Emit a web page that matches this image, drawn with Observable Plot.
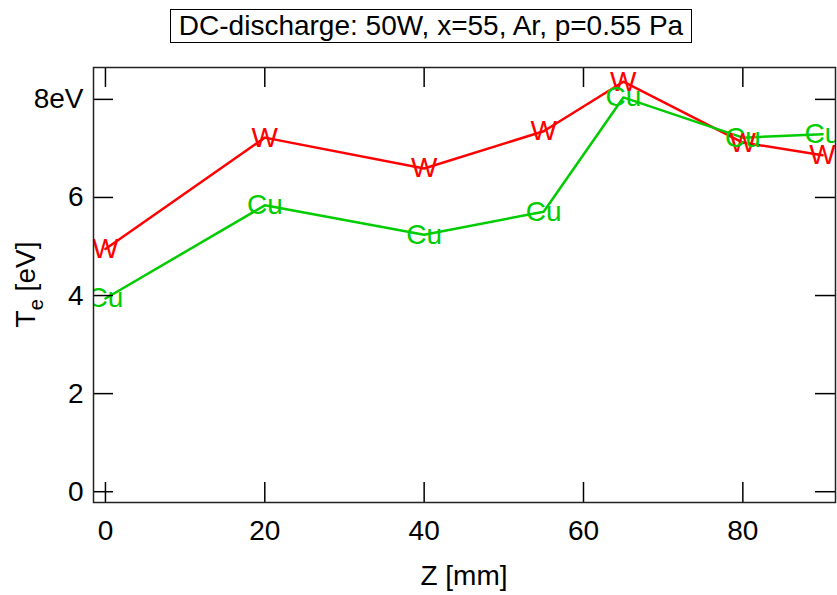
<!DOCTYPE html>
<html>
<head>
<meta charset="utf-8">
<script src="https://cdn.jsdelivr.net/npm/d3@7"></script>
<script src="https://cdn.jsdelivr.net/npm/@observablehq/plot@0.6"></script>
<style>
  html, body { margin: 0; padding: 0; background: white; }
  #wrap { width: 837px; height: 595px; position: relative; font-family: "Liberation Sans", Arial, sans-serif; }
  #title { position: absolute; left: 170px; top: 9px; width: 520px; height: 32px; border: 1px solid black;
           font-size: 28px; line-height: 32px; text-align: center; white-space: nowrap; color: black; }
  #chart { position: absolute; left: 0; top: 50px; }
</style>
</head>
<body>
<div id="wrap">
  <div id="title">DC-discharge: 50W, x=55, Ar, p=0.55 Pa</div>
  <div id="chart"></div>
</div>
<script>
const zPositions = [0, 20, 40, 55, 65, 80, 90];
const teW  = [4.95, 7.22, 6.59, 7.35, 8.36, 7.12, 6.86];
const teCu = [3.94, 5.84, 5.24, 5.71, 8.04, 7.22, 7.29];
const xTicks = [0, 20, 40, 60, 80];
const yTicks = [0, 2, 4, 6, 8];
const yTickLabels = ["0", "2", "4", "6", "8eV"];
const seriesNames = ["W", "Cu"];
const seriesColors = ["#ff0000", "#00cc00"];

const table = [];
zPositions.forEach((z, i) => {
  table.push({series: "W", z, te: teW[i]});
  table.push({series: "Cu", z, te: teCu[i]});
});

const W = 837, H = 545, mT = 17, mB = 93, mL = 93, mR = 2;
const frameW = W - mL - mR, frameH = H - mT - mB;
const tickLen = 20;
const font = "'Liberation Sans', Arial, sans-serif";
const tickStyle = {stroke: "black", strokeWidth: 1.5};

const marks = [];
seriesNames.forEach((s, k) => {
  const d = table.filter(r => r.series === s);
  marks.push(Plot.line(d, {x: "z", y: "te", stroke: seriesColors[k], strokeWidth: 2.5, clip: true}));
});
seriesNames.forEach((s, k) => {
  const d = table.filter(r => r.series === s);
  marks.push(Plot.text(d, {x: "z", y: "te", text: "series", fill: seriesColors[k], fontSize: 28,
    fontFamily: font, textAnchor: "middle", lineAnchor: "middle", clip: true}));
});
marks.push(
  Plot.axisX(xTicks, {anchor: "bottom", tickSize: 0, tickPadding: 18, fontSize: 28, label: null, fill: "black"}),
  Plot.axisY(yTicks, {anchor: "left", tickSize: 0, tickPadding: 10, fontSize: 28, label: null, fill: "black",
    tickFormat: d => yTickLabels[yTicks.indexOf(d)]}),
  Plot.ruleX(xTicks, {x: d => d, insetTop: frameH - tickLen, ...tickStyle}),
  Plot.ruleX(xTicks, {x: d => d, insetBottom: frameH - tickLen, ...tickStyle}),
  Plot.ruleY(yTicks, {y: d => d, insetRight: frameW - tickLen, ...tickStyle}),
  Plot.ruleY(yTicks, {y: d => d, insetLeft: frameW - tickLen, ...tickStyle}),
  Plot.frame({stroke: "#222", strokeWidth: 1.5})
);

const plot = Plot.plot({
  width: W, height: H,
  marginTop: mT, marginBottom: mB, marginLeft: mL, marginRight: mR,
  style: {fontFamily: font, fontSize: "28px", background: "white", color: "black", overflow: "visible"},
  x: {domain: [-1.5, 91.63]},
  y: {domain: [-0.22, 8.65]},
  marks
});

const xr = plot.scale("x").range;
const yr = plot.scale("y").range;
const svg = d3.select(plot);
const cx = (xr[0] + xr[1]) / 2;
const cy = (yr[0] + yr[1]) / 2;
svg.append("text")
  .attr("x", cx).attr("y", yr[0] + 83)
  .attr("text-anchor", "middle")
  .attr("font-size", 28).attr("font-family", font).attr("fill", "black")
  .text("Z [mm]");
const yl = svg.append("text")
  .attr("transform", `translate(${xr[0] - 58},${cy}) rotate(-90)`)
  .attr("text-anchor", "middle")
  .attr("font-size", 28).attr("font-family", font).attr("fill", "black");
yl.append("tspan").text("T");
yl.append("tspan").attr("font-size", 20).attr("dy", 8).text("e");
yl.append("tspan").attr("dy", -8).text(" [eV]");

document.getElementById("chart").appendChild(plot);
</script>
</body>
</html>
